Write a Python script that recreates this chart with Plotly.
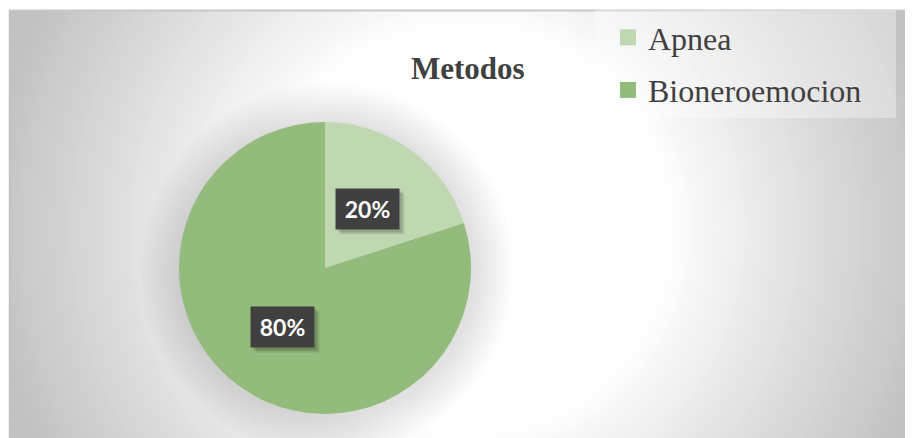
import math
import plotly.graph_objects as go

# ---- data ----
categories = ["Apnea", "Bioneroemocion"]
values = [20, 80]
pct_labels = ["20%", "80%"]
colors = ["#c0d8b2", "#93bc7c"]
title_text = "Metodos"

# ---- geometry helpers (window pixels -> paper); page body has an 8px margin ----
OFF = 8
W, H = 913 - OFF, 438 - OFF
def px(x):
    return (x - OFF) / W
def py(y):
    return 1 - (y - OFF) / H

PCX, PCY, PR = 325, 268, 146  # pie centre / radius in window px

fig = go.Figure()

fig.add_trace(go.Pie(
    labels=categories, values=values, sort=False, direction="clockwise",
    rotation=0, marker=dict(colors=colors, line=dict(width=0)),
    textinfo="none", hoverinfo="label+percent", showlegend=False,
    domain=dict(x=[px(PCX - PR), px(PCX + PR)], y=[py(PCY + PR), py(PCY - PR)]),
))

# legend entries (square markers)
for i, (c, col) in enumerate(zip(categories, colors)):
    fig.add_trace(go.Scatter(
        x=[None], y=[None], mode="markers", name=c, legendgroup=f"g{i}",
        marker=dict(symbol="square", size=16, color=col, line=dict(width=0)),
    ))

shapes = []
# radial gradient background
GCX, GCY = 465, 230
d = 620
while d >= 200:
    t = (d - 200) / 280
    g = int(round(255 - (255 - 194) * min(t, 1)))
    shapes.append(dict(type="circle", xref="paper", yref="paper", layer="below",
                       x0=px(GCX - d), x1=px(GCX + d), y0=py(GCY + d), y1=py(GCY - d),
                       fillcolor=f"rgb({g},{g},{g})", line=dict(width=0)))
    d -= 5
# white outer margin
shapes.append(dict(type="rect", xref="paper", yref="paper", layer="below",
                   x0=-0.1, x1=1.1, y0=py(10), y1=1.1, fillcolor="white", line=dict(width=0)))
shapes.append(dict(type="rect", xref="paper", yref="paper", layer="below",
                   x0=-0.1, x1=px(9), y0=-0.1, y1=1.1, fillcolor="white", line=dict(width=0)))
# borders
shapes.append(dict(type="line", xref="paper", yref="paper", layer="below",
                   x0=px(9), x1=1, y0=py(10.5), y1=py(10.5), line=dict(color="#c8c8c8", width=2)))
shapes.append(dict(type="line", xref="paper", yref="paper", layer="below",
                   x0=px(9.5), x1=px(9.5), y0=0, y1=py(10), line=dict(color="#c0c0c0", width=1.5)))
# pie soft shadow
for k in range(1, 11):
    r = PR + 4 * k
    shapes.append(dict(type="circle", xref="paper", yref="paper", layer="below",
                       x0=px(PCX - r + 2), x1=px(PCX + r + 2), y0=py(PCY + r + 2), y1=py(PCY - r + 2),
                       fillcolor="rgba(0,0,0,0.012)", line=dict(width=0)))
# legend box
shapes.append(dict(type="rect", xref="paper", yref="paper", layer="below",
                   x0=px(595), x1=px(896), y0=py(118), y1=py(10),
                   fillcolor="rgba(255,255,255,0.35)", line=dict(width=0)))

# data labels from slice mid-angles
annotations = []
total = sum(values)
cum = 0
for v, lab in zip(values, pct_labels):
    mid = (cum + v / 2) / total * 2 * math.pi
    cum += v
    lx = PCX + 0.5 * PR * math.sin(mid)
    ly = PCY - 0.5 * PR * math.cos(mid)
    common = dict(x=px(lx), y=py(ly), xref="paper", yref="paper", showarrow=False,
                  xanchor="center", yanchor="middle", width=63, height=40, borderpad=0)
    annotations.append(dict(common, text="", bgcolor="rgba(0,0,0,0.10)", xshift=5, yshift=-5))
    annotations.append(dict(common, text="", bgcolor="rgba(0,0,0,0.15)", xshift=3, yshift=-3))
    annotations.append(dict(common, text=f"<b>{lab}</b>", bgcolor="#404040",
                            font=dict(family="Lato", size=23, color="white")))

annotations.append(dict(x=px(467.5), y=py(69), xref="paper", yref="paper",
                        xanchor="center", yanchor="middle",
                        text=f"<b>{title_text}</b>", showarrow=False,
                        font=dict(family="Liberation Serif", size=31, color="#404040")))

fig.update_layout(
    width=W, height=H, margin=dict(l=0, r=0, t=0, b=0),
    paper_bgcolor="white", plot_bgcolor="rgba(0,0,0,0)",
    xaxis=dict(visible=False, domain=[0, 1]), yaxis=dict(visible=False, domain=[0, 1]),
    shapes=shapes, annotations=annotations,
    showlegend=True,
    legend=dict(x=px(608), y=py(10), xanchor="left", yanchor="top",
                bgcolor="rgba(0,0,0,0)", itemsizing="trace", tracegroupgap=8,
                font=dict(family="Liberation Serif", size=32, color="#404040")),
)

fig.write_html("out.html")
